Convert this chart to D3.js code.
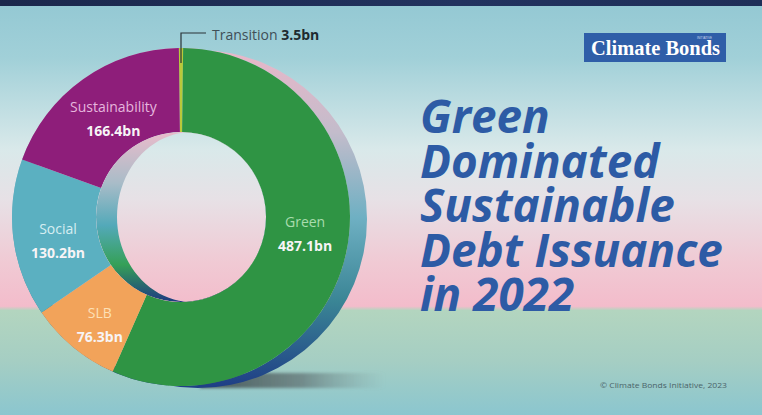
<!DOCTYPE html>
<html>
<head>
<meta charset="utf-8">
<script src="https://cdn.jsdelivr.net/npm/d3@7"></script>
<style>
  html, body { margin: 0; padding: 0; background: #a9d3d8; }
  svg { display: block; }
</style>
</head>
<body>
<svg id="chart" width="762" height="415"></svg>
<script>
// 2022 sustainable debt issuance by label (USD bn)
const categories = ["Transition", "Green", "SLB", "Social", "Sustainability"];
const values = [3.5, 487.1, 76.3, 130.2, 166.4];
const titleLines = ["Green", "Dominated", "Sustainable", "Debt Issuance", "in 2022"];

// Styling
const sliceColor = {
  Transition: "#b9c93a", Green: "#2f9444", SLB: "#f2a35a",
  Social: "#5bb0c1", Sustainability: "#8e1e7a"
};
const nameColor = {
  Green: "#a9dcae", SLB: "#fde0b6", Social: "#d6eef2", Sustainability: "#e6b6de"
};
// small hand nudges for the in-slice labels
const labelNudge = {
  Green: [0, -17], SLB: [0, 3], Social: [3, 1], Sustainability: [6, -1]
};

const W = 762, H = 415;
const cx = 181, cy = 217, R = 169, r = 85;

const svg = d3.select("#chart");
const defs = svg.append("defs");

function vGrad(id, y1, y2, stops) {
  const g = defs.append("linearGradient").attr("id", id)
    .attr("gradientUnits", "userSpaceOnUse")
    .attr("x1", 0).attr("x2", 0).attr("y1", y1).attr("y2", y2);
  stops.forEach(([o, c, a]) => g.append("stop").attr("offset", o)
    .attr("stop-color", c).attr("stop-opacity", a == null ? 1 : a));
  return g;
}

// background wash
vGrad("bg", 0, H, [
  [0, "#93c8d3"], [0.14, "#a1d0d8"], [0.36, "#d9e9ea"], [0.48, "#e7e1e6"],
  [0.63, "#f0cad4"], [0.738, "#f3bccb"], [0.748, "#b3d5bf"], [0.87, "#a5cec3"],
  [1, "#8bc6cf"]
]);
// outer rim of the ring
vGrad("rimOuter", cy - R, cy + R, [
  [0, "#eab7c9"], [0.25, "#c3bccb"], [0.5, "#6fb0c3"], [0.75, "#3a8595"], [1, "#1f3f86"]
]);
// inner wall of the hole
vGrad("rimInner", cy - r, cy + r, [
  [0, "#e9bccb"], [0.3, "#a9bcc8"], [0.55, "#53a9b9"], [0.78, "#35a057"], [1, "#1e3a82"]
]);
// top strip
const tb = defs.append("linearGradient").attr("id", "topbar");
tb.append("stop").attr("offset", 0).attr("stop-color", "#1b284c");
tb.append("stop").attr("offset", 0.6).attr("stop-color", "#22335f");
tb.append("stop").attr("offset", 1).attr("stop-color", "#1f2f58");
// ground shadow
const sg = defs.append("linearGradient").attr("id", "shadow");
sg.append("stop").attr("offset", 0).attr("stop-color", "#3f4d4f").attr("stop-opacity", 0.95);
sg.append("stop").attr("offset", 0.55).attr("stop-color", "#5f6f70").attr("stop-opacity", 0.7);
sg.append("stop").attr("offset", 1).attr("stop-color", "#7d9a9a").attr("stop-opacity", 0);
defs.append("filter").attr("id", "soft").attr("x", "-10%").attr("y", "-50%")
  .attr("width", "120%").attr("height", "200%")
  .append("feGaussianBlur").attr("stdDeviation", 1.6);

defs.append("clipPath").attr("id", "holeClip")
  .append("circle").attr("cx", cx).attr("cy", cy).attr("r", r);

svg.append("rect").attr("width", W).attr("height", H).attr("fill", "url(#bg)");
svg.append("rect").attr("width", W).attr("height", 6).attr("fill", "url(#topbar)");

// shadow under the ring
svg.append("rect").attr("x", 200).attr("y", 373).attr("width", 185).attr("height", 15)
  .attr("fill", "url(#shadow)").attr("filter", "url(#soft)");

function circlePath(x, y, rad) {
  const p = d3.path();
  p.moveTo(x + rad, y);
  p.arc(x, y, rad, 0, 2 * Math.PI);
  p.closePath();
  return p.toString();
}

// outer rim: crescent between an offset copy of the ring and the ring itself
svg.append("path")
  .attr("d", circlePath(cx + 17, cy + 2, R) + circlePath(cx, cy, R))
  .attr("fill-rule", "evenodd")
  .attr("fill", "url(#rimOuter)");

// ring
const total = d3.sum(values);
const half = (values[0] / total) * Math.PI; // centre the thin first slice on 12 o'clock
const data = categories.map((c, i) => ({ category: c, value: values[i] }));
const pie = d3.pie().sort(null).value(d => d.value)
  .startAngle(-half).endAngle(2 * Math.PI - half);
const arc = d3.arc().innerRadius(r).outerRadius(R);
const arcs = pie(data);

const g = svg.append("g").attr("transform", `translate(${cx},${cy})`);
g.selectAll("path.slice").data(arcs).join("path")
  .attr("class", "slice")
  .attr("d", arc)
  .attr("fill", d => sliceColor[d.data.category]);

// inner wall of the hole: hole minus the visible floor
const floorCx = cx + 11, floorRx = 75, floorRy = r;
const ell = [];
for (let k = 0; k <= 90; k++) {
  const t = (k / 90) * 2 * Math.PI;
  ell.push([floorCx + floorRx * Math.cos(t), cy + floorRy * Math.sin(t)]);
}
svg.append("path")
  .attr("d", circlePath(cx, cy, r) + d3.line()(ell) + "Z")
  .attr("fill-rule", "evenodd")
  .attr("clip-path", "url(#holeClip)")
  .attr("fill", "url(#rimInner)");

// slice labels
const fmt = d3.format(".1f");
const lab = svg.append("g").attr("font-family", "'Open Sans', sans-serif")
  .attr("text-anchor", "middle");
arcs.filter(d => d.data.category !== "Transition").forEach(d => {
  const [x, y] = arc.centroid(d);
  const [nx, ny] = labelNudge[d.data.category] || [0, 0];
  const px = cx + x + nx, py = cy + y + ny;
  lab.append("text").attr("x", px).attr("y", py)
    .attr("font-size", 14).attr("fill", nameColor[d.data.category])
    .text(d.data.category);
  lab.append("text").attr("x", px).attr("y", py + 24)
    .attr("font-size", 14).attr("font-weight", 700).attr("fill", "#f7f4f6")
    .text(fmt(d.data.value) + "bn");
});

// callout for the thin slice
const tr = arcs[0];
const trMid = (tr.startAngle + tr.endAngle) / 2;
const tx = cx + Math.sin(trMid) * (R - 2);
svg.append("path")
  .attr("d", `M${tx},${cy - R + 15} V33 H206`)
  .attr("fill", "none").attr("stroke", "#2b3236").attr("stroke-width", 1.2);
const tt = svg.append("text").attr("x", 212).attr("y", 40)
  .attr("font-family", "'Open Sans', sans-serif").attr("font-size", 14);
tt.append("tspan").attr("fill", "#3f4f57").text(tr.data.category + " ");
tt.append("tspan").attr("fill", "#1f2a30").attr("font-weight", 700)
  .text(fmt(tr.data.value) + "bn");

// headline
const title = svg.append("g").attr("font-family", "'Open Sans', sans-serif")
  .attr("font-weight", 700).attr("font-style", "italic").attr("fill", "#2d5ba5");
const probe = title.append("text").attr("font-size", 45).text(titleLines[3]);
const fs = 45 * 303 / probe.node().getComputedTextLength();
probe.remove();
titleLines.forEach((t, i) => {
  title.append("text").attr("x", 420).attr("y", 133 + i * 44.5)
    .attr("font-size", fs).text(t);
});

// logo badge
svg.append("rect").attr("x", 584).attr("y", 33).attr("width", 142).attr("height", 29)
  .attr("fill", "#2f5ea8");
svg.append("text").attr("x", 591).attr("y", 55)
  .attr("font-family", "'Liberation Serif', 'DejaVu Serif', serif")
  .attr("font-weight", 700).attr("font-size", 20).attr("fill", "#ffffff")
  .attr("textLength", 129).attr("lengthAdjust", "spacingAndGlyphs")
  .text("Climate Bonds");
svg.append("text").attr("x", 697).attr("y", 38.5)
  .attr("font-family", "'Liberation Sans', sans-serif").attr("font-size", 3)
  .attr("fill", "#c9d6ee").text("INITIATIVE");

// credit
svg.append("text").attr("x", 600).attr("y", 388)
  .attr("font-family", "'Open Sans', sans-serif").attr("font-size", 8)
  .attr("fill", "#4a6469").attr("textLength", 127).attr("lengthAdjust", "spacingAndGlyphs")
  .text("© Climate Bonds Initiative, 2023");
</script>
</body>
</html>
